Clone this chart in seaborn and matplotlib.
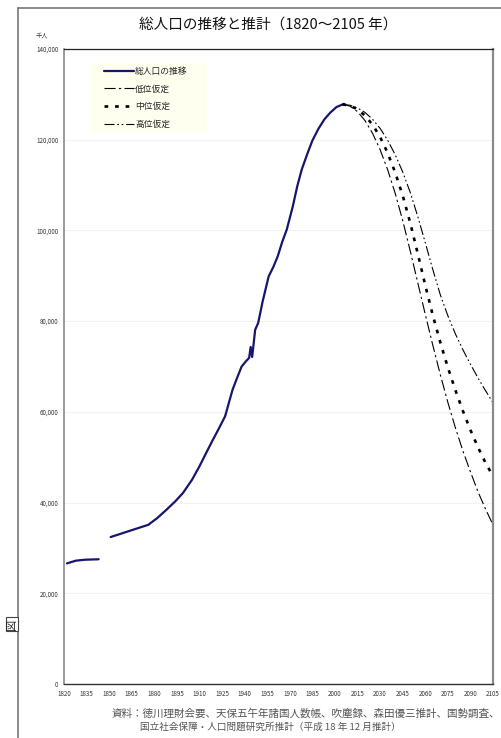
import matplotlib
matplotlib.use("Agg")
import matplotlib.pyplot as plt
from matplotlib.lines import Line2D
from matplotlib.patches import Rectangle
from matplotlib.ticker import FuncFormatter
import seaborn as sns
import pandas as pd

# 総人口の推移 (千人), two segments with a gap of missing years
seg1_years = [1822, 1828, 1834, 1843]
seg1_pop = [26600, 27200, 27400, 27500]
seg2_years = [1851, 1863, 1876, 1882, 1888, 1894, 1899, 1905, 1910, 1915, 1919,
              1923, 1927, 1932, 1935, 1938, 1941, 1943, 1944, 1945, 1947, 1949,
              1952, 1956, 1959, 1962, 1965, 1968, 1972, 1975, 1978, 1982, 1985,
              1989, 1993, 1997, 2001, 2006]
seg2_pop = [32400, 33700, 35100, 36600, 38400, 40300, 42100, 45000, 48000, 51300,
            53900, 56400, 59000, 64900, 67500, 70000, 71200, 71900, 74300, 72100,
            78100, 79600, 84400, 89900, 91900, 94300, 97500, 100200, 105300,
            109800, 113500, 117200, 119800, 122400, 124500, 126000, 127200, 127900]

# 推計 (千人)
proj_years = [2005, 2010, 2015, 2020, 2025, 2030, 2035, 2040, 2045, 2050, 2055,
              2060, 2065, 2070, 2075, 2080, 2085, 2090, 2095, 2100, 2105]
low_pop = [127800, 127400, 126200, 124200, 121400, 117800, 113400, 108200, 102200,
           95500, 88500, 81500, 74700, 68200, 62100, 56500, 51400, 46800, 42400,
           38600, 35100]
mid_pop = [127800, 127500, 126700, 125300, 123300, 120600, 117100, 112800, 107700,
           101700, 94900, 87900, 81300, 75300, 69800, 64800, 60200, 56000, 52200,
           48800, 45800]
high_pop = [127800, 127600, 127000, 126000, 124500, 122500, 119900, 116700, 112900,
            108400, 103100, 97300, 91400, 85800, 81200, 77200, 73700, 70500, 67500,
            64700, 62000]

xticks = list(range(1820, 2106, 15))
yticks = [0, 20000, 40000, 60000, 80000, 100000, 120000, 140000]

main = pd.DataFrame({
    "year": seg1_years + seg2_years,
    "pop": seg1_pop + seg2_pop,
    "seg": [1] * len(seg1_years) + [2] * len(seg2_years),
})

sns.set_theme(style="white")
plt.rcParams["font.family"] = ["Noto Sans CJK JP", "DejaVu Sans"]

fig = plt.figure(figsize=(5.02, 7.38), dpi=100)
ax = fig.add_axes([64 / 502, 54 / 738, 429 / 502, 635 / 738])

navy = "#16166c"
sns.lineplot(data=main, x="year", y="pop", units="seg", estimator=None,
             color=navy, lw=1.6, ax=ax)
low_ls = (0, (10, 3, 2, 3))
mid_ls = (0, (1.4, 2.6))
high_ls = (0, (9, 2.5, 1.5, 2.5, 1.5, 2.5))
sns.lineplot(x=proj_years, y=low_pop, color="black", lw=0.8, ls=low_ls, ax=ax)
sns.lineplot(x=proj_years, y=mid_pop, color="black", lw=1.9, ls=mid_ls, ax=ax)
sns.lineplot(x=proj_years, y=high_pop, color="black", lw=0.8, ls=high_ls, ax=ax)

ax.set_xlim(1820, 2105)
ax.set_ylim(0, 140000)
ax.set_xticks(xticks)
ax.set_yticks(yticks)
ax.yaxis.set_major_formatter(FuncFormatter(lambda v, p: "0" if v == 0 else f"{int(v):,}"))
ax.tick_params(axis="both", length=0, labelsize=4.5, colors="#333333", pad=4)
ax.set_xlabel("")
ax.set_ylabel("")
ax.grid(axis="y", color="#f2f2f2", lw=0.8)

for side, c, w in [("top", "#222222", 0.9), ("bottom", "#333333", 1.0),
                   ("left", "#8a8a8a", 1.2), ("right", "#8a8a8a", 1.6)]:
    ax.spines[side].set_color(c)
    ax.spines[side].set_linewidth(w)

# legend background box
ax.add_patch(Rectangle(((90 - 64) / 429, (684 - 133) / 635), 117 / 429, 70 / 635,
                       transform=ax.transAxes, facecolor="#fffff0", edgecolor="none",
                       zorder=1))
handles = [
    Line2D([], [], color=navy, lw=1.6),
    Line2D([], [], color="black", lw=0.8, ls=low_ls),
    Line2D([], [], color="black", lw=1.9, ls=mid_ls),
    Line2D([], [], color="black", lw=0.8, ls=high_ls),
]
labels = ["総人口の推移", "低位仮定", "中位仮定", "高位仮定"]
ax.legend(handles, labels, loc="upper left", bbox_to_anchor=((104 - 64) / 429, 0.972),
          fontsize=6.3, frameon=False, handlelength=3.4, handletextpad=0.15,
          labelspacing=1.0, borderpad=0, borderaxespad=0)

fig.text(0.535, 1 - 25 / 738, "総人口の推移と推計（1820〜2105 年）", ha="center",
         va="center", fontsize=10.5, color="#111111")
fig.text(42 / 502, 1 - 36 / 738, "千人", ha="center", va="center", fontsize=4.5,
         color="#333333")

fig.text(112 / 502, 1 - 713 / 738,
         "資料：徳川理財会要、天保五午年諸国人数帳、吹塵録、森田優三推計、国勢調査、",
         ha="left", va="center", fontsize=7.6, color="#555555")
fig.text(140 / 502, 1 - 727 / 738,
         "国立社会保障・人口問題研究所推計（平成 18 年 12 月推計）",
         ha="left", va="center", fontsize=6.9, color="#555555")

# outer frame of the page
fig.add_artist(Line2D([18 / 502, 1.0], [1 - 8 / 738, 1 - 8 / 738], color="#777777", lw=1.2))
fig.add_artist(Line2D([18 / 502, 18 / 502], [0, 1 - 8 / 738], color="#777777", lw=1.2))
fig.text(12 / 502, 1 - 624 / 738, "図", ha="center", va="center", rotation=90,
         fontsize=8, color="#222222",
         bbox=dict(boxstyle="square,pad=0.1", fc="white", ec="#444444", lw=0.8))

fig.savefig("out.png", dpi=100)
